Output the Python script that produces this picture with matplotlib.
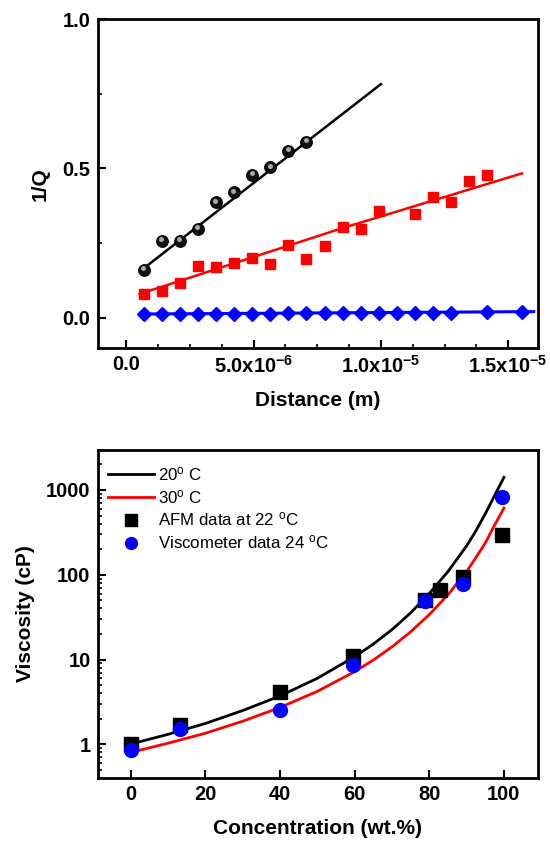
import numpy as np
import matplotlib
matplotlib.use("Agg")
import matplotlib.pyplot as plt
from matplotlib import transforms
from matplotlib.ticker import FixedLocator, MultipleLocator, LogLocator, NullFormatter, FixedFormatter

plt.rcParams['font.family'] = ['Liberation Sans', 'DejaVu Sans']
plt.rcParams['mathtext.default'] = 'regular'

# ---- top panel: 1/Q vs distance ----
dist_pts = [0.68e-6, 1.40e-6, 2.09e-6, 2.80e-6, 3.52e-6, 4.23e-6, 4.95e-6, 5.65e-6, 6.36e-6, 7.07e-6,
            7.79e-6, 8.50e-6, 9.20e-6, 9.92e-6, 10.63e-6, 11.32e-6, 12.03e-6, 12.74e-6, 14.15e-6, 15.56e-6]

black_x = dist_pts[:10]
black_q = [0.160, 0.258, 0.258, 0.296, 0.386, 0.419, 0.478, 0.503, 0.558, 0.589]
black_fit_x = [0.55e-6, 1.0e-5]
black_fit_q = [0.156, 0.782]

red_x = dist_pts[:14] + [11.32e-6, 12.03e-6, 12.74e-6, 13.44e-6, 14.15e-6]
red_q = [0.078, 0.090, 0.115, 0.173, 0.169, 0.182, 0.201, 0.179, 0.244, 0.196,
         0.240, 0.305, 0.296, 0.358, 0.346, 0.403, 0.386, 0.456, 0.479]
red_fit_x = [0.52e-6, 8.5e-6, 15.54e-6]
red_fit_q = [0.079, 0.300, 0.483]

blue_x = dist_pts
blue_q = [0.012, 0.012, 0.012, 0.012, 0.013, 0.013, 0.013, 0.013, 0.014, 0.014,
          0.014, 0.015, 0.015, 0.015, 0.016, 0.016, 0.017, 0.017, 0.019, 0.020]
blue_fit_x = [0.68e-6, 16.0e-6]
blue_fit_q = [0.012, 0.020]

top_xticks = [0, 5e-6, 1e-5, 1.5e-5]
top_xlabels = ["0.0", "5.0x10$^{-6}$", "1.0x10$^{-5}$", "1.5x10$^{-5}$"]
top_yticks = [0.0, 0.5, 1.0]
top_ylabels = ["0.0", "0.5", "1.0"]

# ---- bottom panel: viscosity vs concentration ----
conc_curve = [0, 10, 20, 30, 40, 50, 60, 65, 70, 75, 80, 85, 90, 92.5, 95, 97.5, 100]
visc_20 = [1.005, 1.31, 1.76, 2.50, 3.72, 6.00, 10.8, 15.2, 22.5, 35.5, 60.1, 109, 219, 330, 523, 860, 1410]
visc_30 = [0.801, 1.03, 1.35, 1.87, 2.72, 4.21, 7.19, 9.85, 14.1, 21.2, 33.9, 58, 109, 160, 237, 385, 612]

afm_conc = [0, 13.2, 40.1, 59.5, 78.8, 83.0, 89.0, 99.6]
afm_visc = [1.02, 1.70, 4.13, 11.1, 50, 65.4, 93, 298]

vis_conc = [0, 13.2, 40.1, 59.5, 78.8, 89.0, 99.5]
vis_visc = [0.85, 1.53, 2.54, 8.73, 48.5, 78.4, 834]

bot_xticks = [0, 20, 40, 60, 80, 100]
bot_yticks = [1, 10, 100, 1000]
bot_ylabels = ["1", "10", "100", "1000"]


def style_axes(ax):
    for s in ax.spines.values():
        s.set_linewidth(2.0)
    ax.tick_params(which='major', direction='in', length=5.5, width=1.5, labelsize=14.5, pad=5,
                   top=False, right=False)
    ax.tick_params(which='minor', direction='in', length=3, width=1.2, top=False, right=False)
    for lab in ax.get_xticklabels() + ax.get_yticklabels():
        lab.set_fontweight('bold')


fig = plt.figure(figsize=(5.5, 8.42), dpi=100)
ax1 = fig.add_axes([0.1773, 0.5863, 0.8, 0.3911])
ax2 = fig.add_axes([0.1773, 0.0760, 0.8, 0.3901])

# top panel
ax1.plot(black_fit_x, black_fit_q, color='black', lw=1.8, zorder=2)
ax1.plot(red_fit_x, red_fit_q, color='#ff0000', lw=1.8, zorder=2)
ax1.plot(blue_fit_x, blue_fit_q, color='#0000ff', lw=2.2, zorder=2)

ax1.plot(red_x, red_q, ls='none', marker='s', ms=7.4, color='#ff0000', mec='#ff0000', zorder=3)
ax1.plot(blue_x, blue_q, ls='none', marker='D', ms=7.4, color='#0000ff', mec='#0000ff', zorder=3)
ax1.plot(black_x, black_q, ls='none', marker='o', ms=8.4, mfc='#111111', mec='black', mew=0.8, zorder=3)
hl = transforms.offset_copy(ax1.transData, fig=fig, x=-0.4, y=1.3, units='points')
ax1.plot(black_x, black_q, ls='none', marker='o', ms=3.6, mfc='#a8a8a8', mec='none',
         transform=hl, zorder=4)

ax1.set_xlim(-1.13e-6, 1.615e-5)
ax1.set_ylim(-0.103, 1.0)
ax1.xaxis.set_major_locator(FixedLocator(top_xticks))
ax1.xaxis.set_major_formatter(FixedFormatter(top_xlabels))
ax1.xaxis.set_minor_locator(MultipleLocator(1.25e-6))
ax1.yaxis.set_major_locator(FixedLocator(top_yticks))
ax1.yaxis.set_major_formatter(FixedFormatter(top_ylabels))
ax1.yaxis.set_minor_locator(MultipleLocator(0.25))
style_axes(ax1)
ax1.set_xlabel("Distance (m)", fontsize=15, fontweight='bold', labelpad=10)
ax1.set_ylabel("1/Q", fontsize=15, fontweight='bold', labelpad=9)

# bottom panel
l20, = ax2.plot(conc_curve, visc_20, color='black', lw=2.0, zorder=2)
l30, = ax2.plot(conc_curve, visc_30, color='#ff0000', lw=2.0, zorder=2)
afm, = ax2.plot(afm_conc, afm_visc, ls='none', marker='s', ms=9.5, color='black', zorder=3)
vis, = ax2.plot(vis_conc, vis_visc, ls='none', marker='o', ms=10, color='#0000ff', zorder=4)

ax2.set_yscale('log')
ax2.set_xlim(-8.9, 109.0)
ax2.set_ylim(0.4, 3000)
ax2.xaxis.set_major_locator(FixedLocator(bot_xticks))
ax2.yaxis.set_major_locator(FixedLocator(bot_yticks))
ax2.yaxis.set_major_formatter(FixedFormatter(bot_ylabels))
ax2.yaxis.set_minor_locator(LogLocator(base=10, subs=np.arange(2, 10)))
ax2.yaxis.set_minor_formatter(NullFormatter())
style_axes(ax2)
ax2.set_xlabel("Concentration (wt.%)", fontsize=15, fontweight='bold', labelpad=11)
ax2.set_ylabel("Viscosity (cP)", fontsize=15, fontweight='bold', labelpad=8)

ax2.legend([l20, l30, afm, vis],
           ["20$^{o}$ C", "30$^{o}$ C", "AFM data at 22 $^{o}$C", "Viscometer data 24 $^{o}$C"],
           loc='upper left', bbox_to_anchor=(0.0245, 0.952), frameon=False, fontsize=12.2,
           handlelength=2.7, handletextpad=0.25, labelspacing=0.28, borderpad=0, borderaxespad=0,
           numpoints=1, markerscale=0.85)

fig.savefig("out.png", dpi=100, facecolor="white")
